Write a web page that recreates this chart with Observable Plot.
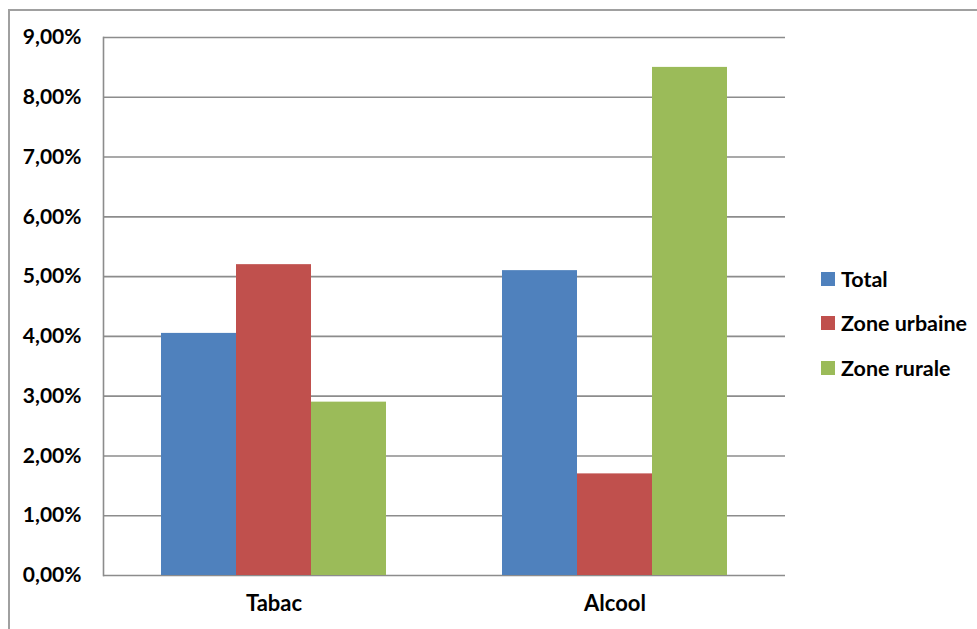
<!DOCTYPE html>
<html>
<head>
<meta charset="utf-8">
<script src="https://cdn.jsdelivr.net/npm/d3@7"></script>
<script src="https://cdn.jsdelivr.net/npm/@observablehq/plot@0.6"></script>
<style>
  html, body { margin: 0; padding: 0; background: #fff; overflow: hidden; }
  body { width: 977px; height: 629px; position: relative; font-family: Lato, "Open Sans", sans-serif; }
  #frame { position: absolute; left: 8px; top: 9px; width: 2000px; height: 2000px;
           border-top: 2px solid #a0a0a0; border-left: 2px solid #a0a0a0; box-sizing: border-box; }
  #chart { position: absolute; left: 0; top: 0; }
  #chart .fx-labels text { font-size: 22px; }
  #legend { position: absolute; left: 821px; top: 266px; font-weight: bold; font-size: 21.5px; color: #000; }
  #legend .item { display: flex; align-items: center; height: 25px; margin-bottom: 19.5px; white-space: nowrap; }
  #legend .sw { width: 14px; height: 14px; margin-right: 6px; flex: none; }
</style>
</head>
<body>
<div id="frame"></div>
<div id="chart"></div>
<div id="legend"></div>
<script>
// Substances and the three population groups
const categories = ["Tabac", "Alcool"];
const series = ["Total", "Zone urbaine", "Zone rurale"];
// Prevalence in percent, one value per group
const tabacValues = [4.05, 5.2, 2.9];
const alcoolValues = [5.1, 1.7, 8.5];
const yTicks = [0, 1, 2, 3, 4, 5, 6, 7, 8, 9];
const colors = ["#4F81BD", "#C0504D", "#9BBB59"];

const rows = [
  ...series.map((s, i) => ({category: categories[0], series: s, value: tabacValues[i]})),
  ...series.map((s, i) => ({category: categories[1], series: s, value: alcoolValues[i]}))
];

const fmt = d => d.toFixed(2).replace(".", ",") + "%";
const gridColor = "#8c8c8c";

const chart = Plot.plot({
  width: 800,
  height: 629,
  marginLeft: 103,
  marginRight: 15,
  marginTop: 37,
  marginBottom: 54,
  style: {fontFamily: "Lato, 'Open Sans', sans-serif", fontWeight: "bold", fontSize: "21px", color: "#000", background: "transparent"},
  fx: {domain: categories, padding: 0, label: null, axis: null},
  x: {domain: series, paddingInner: 0, paddingOuter: 0.753, axis: null},
  y: {domain: [0, 9], ticks: yTicks, tickFormat: fmt, label: null, tickSize: 0, tickPadding: 22},
  color: {domain: series, range: colors},
  marks: [
    Plot.gridY(yTicks, {stroke: gridColor, strokeOpacity: 1, strokeWidth: 1.6}),
    Plot.frame({anchor: "left", stroke: gridColor, strokeOpacity: 1, strokeWidth: 1.6, fx: [categories[0]]}),
    Plot.barY(rows, {fx: "category", x: "series", y: "value", fill: "series"}),
    Plot.axisFx({anchor: "bottom", tickSize: 0, tickPadding: 20, label: null, className: "fx-labels"})
  ]
});
document.getElementById("chart").appendChild(chart);

const legend = document.getElementById("legend");
series.forEach((s, i) => {
  const item = document.createElement("div");
  item.className = "item";
  const sw = document.createElement("span");
  sw.className = "sw";
  sw.style.background = colors[i];
  const label = document.createElement("span");
  label.textContent = s;
  item.appendChild(sw);
  item.appendChild(label);
  legend.appendChild(item);
});
</script>
</body>
</html>
